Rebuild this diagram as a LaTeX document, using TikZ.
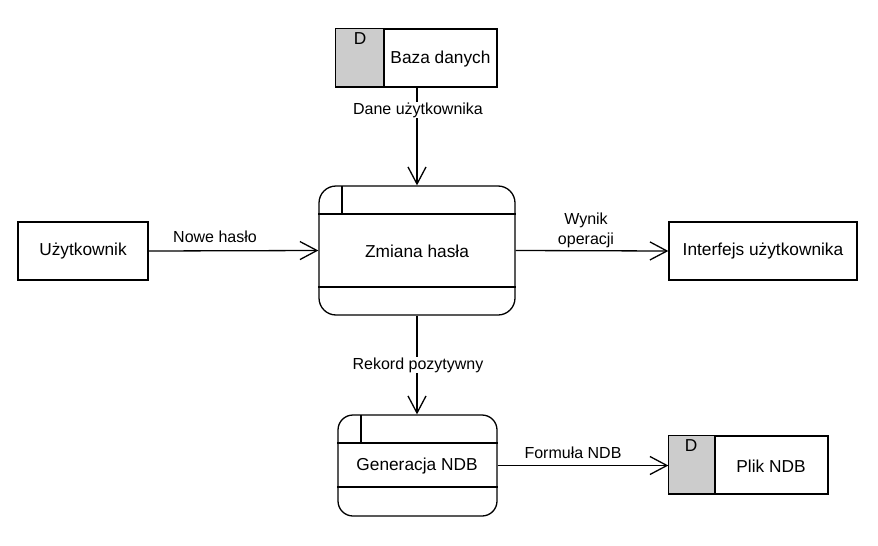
\documentclass[tikz,border=0pt]{standalone}
\usepackage{fontspec}
\setmainfont{Liberation Sans}
\usetikzlibrary{arrows.meta}
\newcommand{\nodefnt}{\fontsize{17.3}{20}\selectfont}
\newcommand{\lblfnt}{\fontsize{16}{20}\selectfont}
\begin{document}
\begin{tikzpicture}[x=1pt,y=-1pt,
  lw/.style={line width=1.3pt},
  entity/.style={draw,lw,inner sep=0pt,minimum height=58pt,font=\nodefnt},
  proc/.style={draw,lw,inner sep=0pt,font=\nodefnt},
  store/.style={draw,lw,inner sep=0pt,minimum height=58pt},
  txt/.style={inner sep=0pt,font=\nodefnt},
  lbl/.style={inner sep=1pt,font=\lblfnt,align=center},
  flow/.style={lw,-{Straight Barb[length=17pt,width=18pt,line width=1.3pt]}}]
\useasboundingbox (0,0) rectangle (878,546);
% external entities
\node[entity,minimum width=130pt] (user) at (83,251) {Użytkownik};
\node[entity,minimum width=188pt] (ui) at (763,251) {Interfejs użytkownika};
% processes
\node[proc,minimum width=196pt,minimum height=129pt,rounded corners=17pt] (zm) at (417,250.5) {};
\node[txt] (zmt) at (417,251) {Zmiana hasła};
\draw[lw] (zm.west |- 0,214) -- (zm.east |- 0,214);
\draw[lw] (zm.west |- 0,287) -- (zm.east |- 0,287);
\draw[lw] (342,186) -- (342,214);
\node[proc,minimum width=159pt,minimum height=101pt,rounded corners=15pt] (gen) at (417.5,465.5) {};
\node[txt] (gent) at (417,466) {Generacja NDB};
\draw[lw] (gen.west |- 0,443) -- (gen.east |- 0,443);
\draw[lw] (gen.west |- 0,487) -- (gen.east |- 0,487);
\draw[lw] (361,415) -- (361,443);
% data stores
\node[store,minimum width=161pt] (baza) at (416.5,58) {};
\filldraw[lw,fill=gray!40] (baza.north west) rectangle (384,87);
\node[txt] (bazad) at (360,39) {D};
\node[txt] (bazat) at (440.5,59) {Baza danych};
\node[store,minimum width=159pt] (plik) at (748.5,465) {};
\filldraw[lw,fill=gray!40] (plik.north west) rectangle (715,494);
\node[txt] (plikd) at (691,446) {D};
\node[txt] (plikt) at (771,466) {Plik NDB};
% flows
\draw[flow] (baza.south -| 417,0) -- (zm.north -| 417,0);
\draw[flow] (user.east) -- (zm.west);
\draw[flow] (zm.east) -- (ui.west);
\draw[flow] (zm.south -| 417,0) -- (gen.north -| 417,0);
\draw[flow] (gen.east) -- (plik.west |- 0,465.5);
% labels
\node[lbl,fill=white] (l1) at (418,110) {Dane użytkownika};
\node[lbl] (l2) at (215,237) {Nowe hasło};
\node[lbl,font=\fontsize{16}{20}\selectfont] (l3) at (586,230) {Wynik\\operacji};
\node[lbl,fill=white] (l4) at (418,365) {Rekord pozytywny};
\node[lbl] (l5) at (573,453) {Formuła NDB};
\end{tikzpicture}
\end{document}
